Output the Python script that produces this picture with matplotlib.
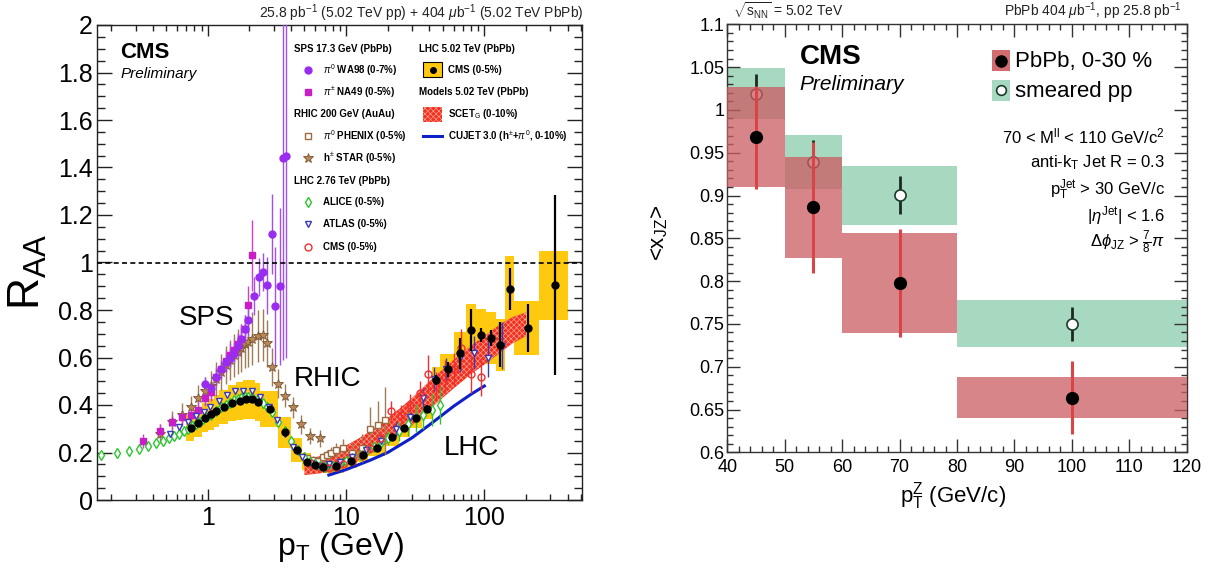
import numpy as np
import matplotlib
matplotlib.use('Agg')
import matplotlib.pyplot as plt
from matplotlib.patches import Rectangle
from matplotlib.lines import Line2D
from matplotlib.ticker import (LogLocator, NullFormatter, FixedLocator,
                               MultipleLocator, FuncFormatter)

plt.rcParams['font.family'] = ['Liberation Sans', 'DejaVu Sans']
plt.rcParams['mathtext.fontset'] = 'custom'
plt.rcParams['mathtext.rm'] = 'Liberation Sans'
plt.rcParams['mathtext.it'] = 'Liberation Sans:italic'
plt.rcParams['mathtext.bf'] = 'Liberation Sans:bold'
plt.rcParams['hatch.linewidth'] = 0.5

# ---------------- Left panel data: R_AA vs pT ----------------
alice_pt = [0.17, 0.22, 0.27, 0.32, 0.37, 0.42, 0.47, 0.52, 0.57, 0.62, 0.67, 0.72, 0.77, 0.82, 0.87,
            0.92, 0.97, 1.05, 1.15, 1.25, 1.35, 1.45, 1.55, 1.65, 1.75, 1.85, 1.95, 2.1, 2.3, 2.5,
            2.7, 2.9, 3.2, 3.6, 4.0, 4.5, 5.0, 5.5, 6.0, 6.5, 7.0, 8.0, 9.0, 10.0, 11.0, 12.5,
            14.0, 16.0, 18.0, 20.0, 24.0, 28.0, 32.0, 36.0, 42.0, 48.0]
alice_raa = [0.19, 0.20, 0.205, 0.215, 0.228, 0.24, 0.25, 0.26, 0.27, 0.28, 0.29, 0.30, 0.31, 0.32, 0.33,
             0.34, 0.35, 0.36, 0.375, 0.39, 0.40, 0.41, 0.42, 0.425, 0.43, 0.435, 0.435, 0.435, 0.425, 0.41,
             0.39, 0.37, 0.33, 0.29, 0.25, 0.21, 0.18, 0.16, 0.15, 0.145, 0.14, 0.145, 0.155, 0.165, 0.175, 0.19,
             0.205, 0.225, 0.245, 0.26, 0.29, 0.32, 0.345, 0.36, 0.38, 0.40]
alice_err = [0.005, 0.005, 0.005, 0.005, 0.005, 0.005, 0.005, 0.005, 0.005, 0.005, 0.005, 0.005, 0.005, 0.005, 0.005,
             0.005, 0.005, 0.005, 0.005, 0.005, 0.005, 0.005, 0.005, 0.005, 0.005, 0.005, 0.005, 0.005, 0.005, 0.005,
             0.005, 0.005, 0.005, 0.005, 0.005, 0.005, 0.008, 0.008, 0.008, 0.008, 0.008, 0.01, 0.01, 0.01, 0.012, 0.012,
             0.015, 0.02, 0.025, 0.03, 0.04, 0.05, 0.06, 0.06, 0.07, 0.08]

atlas_pt = [0.53, 0.62, 0.72, 0.82, 0.93, 1.04, 1.2, 1.37, 1.58, 1.79, 2.08, 2.39, 2.75, 3.15, 3.6, 4.1, 4.8,
            5.6, 6.5, 7.5, 9.0, 11, 14, 18, 23, 29, 36, 43, 53, 67, 84, 106, 134]
atlas_raa = [0.277, 0.309, 0.33, 0.355, 0.37, 0.39, 0.415, 0.442, 0.459, 0.459, 0.459, 0.432, 0.39, 0.337, 0.28,
             0.225, 0.182, 0.155, 0.145, 0.15, 0.16, 0.18, 0.21, 0.25, 0.3, 0.35, 0.43, 0.508, 0.55, 0.6, 0.62,
             0.6, 0.65]
atlas_err = [0.005, 0.005, 0.005, 0.005, 0.005, 0.005, 0.005, 0.005, 0.005, 0.005, 0.005, 0.005, 0.005, 0.005,
             0.005, 0.005, 0.005, 0.006, 0.008, 0.01, 0.012, 0.015, 0.02, 0.025, 0.03, 0.035, 0.04, 0.05, 0.05,
             0.06, 0.07, 0.08, 0.1]

cms276_pt = [5.5, 6.5, 7.5, 8.5, 9.5, 11, 13, 15, 17.5, 21, 25, 29, 34, 39, 45, 52, 60, 68, 80, 95]
cms276_raa = [0.155, 0.14, 0.135, 0.14, 0.15, 0.165, 0.19, 0.22, 0.26, 0.375, 0.36, 0.4, 0.45, 0.53, 0.48,
              0.52, 0.55, 0.64, 0.53, 0.52]
cms276_err = [0.01, 0.01, 0.01, 0.01, 0.012, 0.015, 0.02, 0.02, 0.025, 0.04, 0.04, 0.045, 0.05, 0.08, 0.06,
              0.07, 0.07, 0.08, 0.08, 0.08]

phenix_pt = [5.25, 5.75, 6.25, 6.75, 7.25, 7.75, 8.5, 9.5, 11, 13, 15, 17, 19]
phenix_raa = [0.175, 0.17, 0.165, 0.18, 0.19, 0.2, 0.21, 0.22, 0.2, 0.22, 0.3, 0.315, 0.335]
phenix_err = [0.015, 0.015, 0.015, 0.02, 0.02, 0.025, 0.03, 0.035, 0.04, 0.06, 0.09, 0.1, 0.14]

star_pt = [0.45, 0.55, 0.65, 0.75, 0.85, 0.95, 1.05, 1.15, 1.25, 1.35, 1.45, 1.55, 1.65, 1.75, 1.85, 1.95,
           2.1, 2.3, 2.5, 2.7, 2.9, 3.2, 3.6, 4.1, 4.7, 5.5, 6.5]
star_raa = [0.28, 0.33, 0.36, 0.39, 0.43, 0.46, 0.48, 0.51, 0.54, 0.57, 0.59, 0.61, 0.625, 0.64, 0.655, 0.665,
            0.68, 0.69, 0.695, 0.66, 0.56, 0.49, 0.44, 0.39, 0.32, 0.27, 0.26]
star_err = [0.04, 0.045, 0.05, 0.05, 0.055, 0.06, 0.065, 0.07, 0.075, 0.08, 0.085, 0.09, 0.095, 0.1, 0.1, 0.105,
            0.11, 0.11, 0.11, 0.1, 0.08, 0.06, 0.05, 0.045, 0.04, 0.035, 0.035]

na49_pt = [0.34, 0.45, 0.55, 0.65, 0.75, 0.85, 0.95, 1.05, 1.15, 1.25, 1.35, 1.45, 1.55, 1.65, 1.75, 1.85, 1.95, 2.1]
na49_raa = [0.25, 0.29, 0.33, 0.35, 0.36, 0.38, 0.43, 0.455, 0.52, 0.55, 0.585, 0.61, 0.63, 0.655, 0.68, 0.72,
            0.82, 1.03]
na49_err = [0.03, 0.03, 0.03, 0.03, 0.03, 0.035, 0.035, 0.04, 0.04, 0.04, 0.045, 0.05, 0.05, 0.05, 0.06, 0.06,
            0.08, 0.15]

wa98_pt = [0.95, 1.05, 1.15, 1.25, 1.35, 1.45, 1.55, 1.65, 1.75, 1.85, 1.95, 2.15, 2.35, 2.5, 2.7, 2.9, 3.06,
           3.3, 3.52, 3.68]
wa98_raa = [0.49, 0.47, 0.52, 0.55, 0.58, 0.6, 0.62, 0.65, 0.68, 0.72, 0.76, 0.86, 0.94, 0.96, 0.905, 1.12,
            0.815, 0.9, 1.438, 1.448]
wa98_err = [0.03, 0.03, 0.03, 0.03, 0.035, 0.04, 0.04, 0.05, 0.05, 0.06, 0.07, 0.08, 0.08, 0.08, 0.12, 0.17,
            0.25, 0.33, 0.85, 0.85]

cms502_edges = [0.7, 0.8, 0.9, 1.0, 1.1, 1.2, 1.4, 1.6, 1.8, 2.0, 2.2, 2.4, 3.2, 4.0, 4.8, 5.6, 6.4, 7.2, 9.6,
                12.0, 14.4, 19.2, 24.0, 28.8, 35.2, 41.6, 48.0, 60.8, 73.6, 86.4, 103.6, 120.8, 140.0, 165.0,
                250.0, 400.0]
cms502_raa = [0.303, 0.323, 0.347, 0.361, 0.375, 0.392, 0.408, 0.418, 0.424, 0.424, 0.414, 0.383, 0.285, 0.212,
              0.161, 0.147, 0.14, 0.142, 0.165, 0.19, 0.22, 0.265, 0.305, 0.345, 0.385, 0.505, 0.55, 0.618,
              0.716, 0.695, 0.682, 0.653, 0.888, 0.725, 0.905]
cms502_stat = [0.003, 0.003, 0.003, 0.003, 0.003, 0.003, 0.003, 0.003, 0.003, 0.003, 0.003, 0.003, 0.003, 0.003,
               0.004, 0.004, 0.004, 0.005, 0.005, 0.006, 0.007, 0.008, 0.01, 0.012, 0.015, 0.02, 0.03, 0.065,
               0.09, 0.03, 0.035, 0.095, 0.09, 0.1, 0.38]
cms502_sys = [0.055, 0.058, 0.062, 0.065, 0.068, 0.072, 0.076, 0.08, 0.082, 0.082, 0.08, 0.075, 0.065, 0.05,
              0.035, 0.03, 0.028, 0.028, 0.03, 0.032, 0.035, 0.038, 0.04, 0.042, 0.045, 0.055, 0.065, 0.09,
              0.11, 0.11, 0.11, 0.11, 0.14, 0.115, 0.145]

scet_pt = [5, 6, 7, 8, 10, 12, 15, 20, 25, 30, 40, 50, 60, 80, 100, 130, 160, 200]
scet_lo = [0.105, 0.11, 0.115, 0.125, 0.145, 0.165, 0.195, 0.24, 0.28, 0.315, 0.38, 0.43, 0.47, 0.53, 0.57,
           0.62, 0.66, 0.69]
scet_hi = [0.175, 0.18, 0.19, 0.2, 0.23, 0.255, 0.29, 0.345, 0.39, 0.43, 0.5, 0.55, 0.59, 0.65, 0.69, 0.74,
           0.77, 0.79]

cujet_pt = [7.5, 10, 15, 20, 30, 40, 60, 80, 100]
cujet_raa = [0.105, 0.128, 0.168, 0.2, 0.262, 0.316, 0.395, 0.445, 0.48]

# ---------------- Right panel data: <x_JZ> vs pT^Z ----------------
z_lo = [40, 50, 60, 80]
z_hi = [50, 60, 80, 120]
z_pt = [45, 55, 70, 100]
pbpb_xjz = [0.968, 0.886, 0.798, 0.664]
pbpb_stat = [0.06, 0.077, 0.063, 0.043]
pbpb_sys = [0.0585, 0.0585, 0.0585, 0.0235]
pp_xjz = [1.019, 0.9395, 0.9005, 0.75]
pp_stat = [0.023, 0.025, 0.022, 0.02]
pp_sys = [0.0295, 0.0315, 0.0345, 0.0275]

# ---------------- Figure ----------------
W, H = 1214, 571
fig = plt.figure(figsize=(W / 100, H / 100), dpi=100)
fig.patch.set_facecolor('white')


def fpos(px, py):
    return px / W, 1 - py / H


def ftext(px, py, s, **kw):
    x, y = fpos(px, py)
    fig.text(x, y, s, **kw)


axL = fig.add_axes([96.7 / W, 1 - 500 / H, (581.7 - 96.7) / W, 475 / H])
axR = fig.add_axes([727.3 / W, 1 - 452.3 / H, (1186.7 - 727.3) / W, (452.3 - 24.3) / H])

YEL = '#ffc910'
SCET_FACE = '#f2301c'
SCET_HATCH = '#ff9e92'
# CMS 5.02 systematic boxes
edges = np.array(cms502_edges)
raa5 = np.array(cms502_raa)
sys5 = np.array(cms502_sys)
axL.bar(edges[:-1], 2 * sys5, width=np.diff(edges), bottom=raa5 - sys5, align='edge',
        color=YEL, linewidth=0, zorder=1)

# SCET band
axL.fill_between(scet_pt, scet_lo, scet_hi, facecolor=SCET_FACE, edgecolor=SCET_HATCH,
                 hatch='xxxxxx', linewidth=0, zorder=2)
# CUJET line
axL.plot(cujet_pt, cujet_raa, color='#1020c8', lw=2.2, zorder=3)

eb = dict(capsize=0, elinewidth=1.0, linestyle='none')
axL.errorbar(star_pt, star_raa, yerr=star_err, marker='*', ms=7, mfc='#b8875a', mec='#7a5530',
             mew=0.6, ecolor='#a07b58', zorder=4, **eb)
axL.errorbar(phenix_pt, phenix_raa, yerr=phenix_err, marker='s', ms=5, mfc='white', mec='#9a6a40',
             mew=1.0, ecolor='#a07b58', zorder=4, **eb)
axL.errorbar(na49_pt, na49_raa, yerr=na49_err, marker='s', ms=5, mfc='#c81ec8', mec='#c81ec8',
             ecolor='#d040d0', zorder=4, **eb)
axL.errorbar(wa98_pt, wa98_raa, yerr=wa98_err, marker='o', ms=5, mfc='#9a2cf0', mec='#9a2cf0',
             ecolor='#a050f0', zorder=4, **eb)
axL.errorbar(alice_pt, alice_raa, yerr=alice_err, marker='d', ms=5, mfc='white', mec='#2fc42f',
             mew=1.0, ecolor='#2fc42f', zorder=5, **eb)
axL.errorbar(atlas_pt, atlas_raa, yerr=atlas_err, marker='v', ms=5, mfc='white', mec='#3a3ab8',
             mew=1.0, ecolor='#3a3ab8', zorder=5, **eb)
axL.errorbar(cms276_pt, cms276_raa, yerr=cms276_err, marker='o', ms=5, mfc='none', mec='#f03030',
             mew=1.0, ecolor='#f03030', zorder=5, **eb)
cen5 = 0.5 * (edges[:-1] + edges[1:])
axL.errorbar(cen5, raa5, yerr=cms502_stat, marker='o', ms=5, mfc='black', mec='black',
             ecolor='black', zorder=6, capsize=0, elinewidth=1.6, linestyle='none')

axL.axhline(1.0, color='black', lw=1.2, ls=(0, (3, 2)), zorder=7)

axL.set_xscale('log')
axL.set_xlim(0.157, 506)
axL.set_ylim(0, 2)
axL.xaxis.set_major_locator(FixedLocator([1, 10, 100]))
axL.xaxis.set_major_formatter(FuncFormatter(lambda v, p: '%g' % v))
axL.xaxis.set_minor_locator(LogLocator(base=10, subs=np.arange(2, 10), numticks=30))
axL.xaxis.set_minor_formatter(NullFormatter())
axL.yaxis.set_major_locator(MultipleLocator(0.2))
axL.yaxis.set_minor_locator(MultipleLocator(0.05))
axL.yaxis.set_major_formatter(FuncFormatter(lambda v, p: '%g' % round(v, 2)))
axL.tick_params(axis='both', which='both', direction='in', top=True, right=True, width=1.0, color='#222222')
axL.tick_params(axis='x', which='major', length=8, pad=4, labelsize=18)
axL.tick_params(axis='x', which='minor', length=4.3)
axL.tick_params(axis='y', which='major', length=10.5, pad=3, labelsize=18)
axL.tick_params(axis='y', which='minor', length=5.5)
for s in axL.spines.values():
    s.set_linewidth(1.0)
    s.set_color('#222222')

# Right panel
GREEN = '#a7d9c1'
RED = (0.80, 0.36, 0.38)
axR.bar(z_lo, 2 * np.array(pp_sys), width=np.array(z_hi) - np.array(z_lo),
        bottom=np.array(pp_xjz) - np.array(pp_sys), align='edge', color=GREEN, linewidth=0, zorder=1)
axR.errorbar(z_pt, pp_xjz, yerr=pp_stat, marker='o', ms=8, mfc='white', mec='#1a3a2a', mew=1.2,
             ecolor='#1a2a20', elinewidth=2, capsize=0, linestyle='none', zorder=2)
axR.bar(z_lo, 2 * np.array(pbpb_sys), width=np.array(z_hi) - np.array(z_lo),
        bottom=np.array(pbpb_xjz) - np.array(pbpb_sys), align='edge', color=RED, alpha=0.75,
        linewidth=0, zorder=3)
axR.errorbar(z_pt, pbpb_xjz, yerr=pbpb_stat, marker='none', ecolor='#d84448', elinewidth=2.2,
             capsize=0, linestyle='none', zorder=4)
axR.plot(z_pt, pbpb_xjz, 'o', ms=8.5, color='black', zorder=5)

axR.set_xlim(40, 120)
axR.set_ylim(0.6, 1.1)
axR.xaxis.set_major_locator(MultipleLocator(10))
axR.xaxis.set_minor_locator(MultipleLocator(2))
axR.yaxis.set_major_locator(MultipleLocator(0.05))
axR.yaxis.set_minor_locator(MultipleLocator(0.01))
axR.xaxis.set_major_formatter(FuncFormatter(lambda v, p: '%g' % v))
axR.yaxis.set_major_formatter(FuncFormatter(lambda v, p: '%g' % round(v, 2)))
axR.tick_params(axis='both', which='both', direction='in', top=True, right=True, width=1.0, color='#333333')
axR.tick_params(axis='both', which='major', length=9.5, labelsize=13)
axR.tick_params(axis='both', which='minor', length=4.3)
axR.tick_params(axis='x', which='major', pad=5)
axR.tick_params(axis='y', which='major', pad=2)
for s in axR.spines.values():
    s.set_linewidth(1.0)
    s.set_color('#333333')

# ---------------- Texts: left ----------------
ftext(584, 13, r'25.8 pb$^{-1}$ (5.02 TeV pp) + 404 $\mu$b$^{-1}$ (5.02 TeV PbPb)', fontsize=10,
      ha='right', va='center', color='#222222')
ftext(120, 52, 'CMS', fontsize=16, fontweight='bold', ha='left', va='center')
ftext(121, 74, 'Preliminary', fontsize=11, fontstyle='italic', ha='left', va='center')
ftext(28, 272, r'R$_{\mathrm{AA}}$', fontsize=32, rotation=90, ha='center', va='center')
ftext(340, 547, r'p$_{\mathrm{T}}$ (GeV)', fontsize=23, ha='center', va='center')
ftext(179, 318, 'SPS', fontsize=20, ha='left', va='center')
ftext(294, 379, 'RHIC', fontsize=20, ha='left', va='center')
ftext(444, 448, 'LHC', fontsize=20, ha='left', va='center')

LF = dict(fontsize=7, fontweight='bold', ha='left', va='center')
ftext(294, 49, 'SPS 17.3 GeV (PbPb)', **LF)
ftext(323, 70, r'$\pi^{0}$ WA98 (0-7%)', **LF)
ftext(323, 92, r'$\pi^{\pm}$ NA49 (0-5%)', **LF)
ftext(294, 114, 'RHIC 200 GeV (AuAu)', **LF)
ftext(323, 136, r'$\pi^{0}$ PHENIX (0-5%)', **LF)
ftext(323, 158, r'h$^{\pm}$ STAR (0-5%)', **LF)
ftext(294, 181, 'LHC 2.76 TeV (PbPb)', **LF)
ftext(323, 202, 'ALICE (0-5%)', **LF)
ftext(323, 224, 'ATLAS (0-5%)', **LF)
ftext(323, 247, 'CMS (0-5%)', **LF)
ftext(419, 49, 'LHC 5.02 TeV (PbPb)', **LF)
ftext(448, 70, 'CMS (0-5%)', **LF)
ftext(419, 92, 'Models 5.02 TeV (PbPb)', **LF)
ftext(448, 114, r'SCET$_{\mathrm{G}}$ (0-10%)', **LF)
ftext(448, 136, r'CUJET 3.0 (h$^{\pm}$+$\pi^{0}$, 0-10%)', **LF)


def key_marker(px, py, **kw):
    x, y = fpos(px, py)
    fig.add_artist(Line2D([x], [y], transform=fig.transFigure, linestyle='none', **kw))


def key_box(px0, py0, px1, py1, **kw):
    x0, y1 = fpos(px0, py0)
    x1, y0 = fpos(px1, py1)
    fig.add_artist(Rectangle((x0, y0), x1 - x0, y1 - y0, transform=fig.transFigure, **kw))


key_marker(308, 70, marker='o', ms=5, mfc='#9a2cf0', mec='#9a2cf0')
key_marker(308, 92, marker='s', ms=5, mfc='#c81ec8', mec='#c81ec8')
key_marker(308, 136, marker='s', ms=5, mfc='white', mec='#9a6a40')
key_marker(308, 158, marker='*', ms=7, mfc='#b8875a', mec='#7a5530', mew=0.6)
key_marker(308, 202, marker='d', ms=5, mfc='white', mec='#2fc42f')
key_marker(308, 224, marker='v', ms=5, mfc='white', mec='#3a3ab8')
key_marker(308, 247, marker='o', ms=5, mfc='none', mec='#f03030')
key_box(423, 62, 442, 77, facecolor=YEL, edgecolor='black', linewidth=0.8)
key_marker(432.5, 69.5, marker='o', ms=4, mfc='black', mec='black')
key_box(423, 107, 442, 122, facecolor=SCET_FACE, edgecolor=SCET_HATCH, hatch='xxxxxx', linewidth=0)
x0, y0 = fpos(423, 136)
x1, _ = fpos(442, 136)
fig.add_artist(Line2D([x0, x1], [y0, y0], transform=fig.transFigure, color='#1020c8', lw=2.2))

# ---------------- Texts: right ----------------
ftext(733, 11, r'$\sqrt{\mathrm{s}_{\mathrm{NN}}}$ = 5.02 TeV', fontsize=10, ha='left', va='center',
      color='#222222')
ftext(1182, 11, r'PbPb 404 $\mu$b$^{-1}$, pp 25.8 pb$^{-1}$', fontsize=10, ha='right', va='center',
      color='#222222')
ftext(800, 57, 'CMS', fontsize=20, fontweight='bold', ha='left', va='center')
ftext(799, 84, 'Preliminary', fontsize=15, fontstyle='italic', ha='left', va='center')
ftext(660, 233, r'<x$_{\mathrm{JZ}}$>', fontsize=16, rotation=90, ha='center', va='center')
ftext(953, 496, r'p$_{\mathrm{T}}^{\mathrm{Z}}$ (GeV/c)', fontsize=16, ha='center', va='center')

key_box(992, 50, 1010, 71, facecolor=RED, alpha=0.9, linewidth=0)
key_marker(1001, 60.5, marker='o', ms=8, mfc='black', mec='black')
key_box(992, 80, 1010, 101, facecolor=GREEN, linewidth=0)
key_marker(1001, 90.5, marker='o', ms=7, mfc='white', mec='#1a3a2a', mew=1.2)
ftext(1015, 61, 'PbPb, 0-30 %', fontsize=16, ha='left', va='center')
ftext(1015, 91, 'smeared pp', fontsize=16, ha='left', va='center')

RF = dict(fontsize=12, ha='right', va='center')
ftext(1165, 136, r'70 < M$^{\mathrm{ll}}$ < 110 GeV/c$^{2}$', **RF)
ftext(1165, 163, r'anti-k$_{\mathrm{T}}$ Jet R = 0.3', **RF)
ftext(1165, 190, r'p$_{\mathrm{T}}^{\mathrm{Jet}}$ > 30 GeV/c', **RF)
ftext(1165, 216, r'|$\eta^{\mathrm{Jet}}$| < 1.6', **RF)
ftext(1165, 242, r'$\Delta\phi_{\mathrm{JZ}}$ > $\frac{7}{8}\pi$', **RF)

fig.savefig('out.png', dpi=100, facecolor='white')
